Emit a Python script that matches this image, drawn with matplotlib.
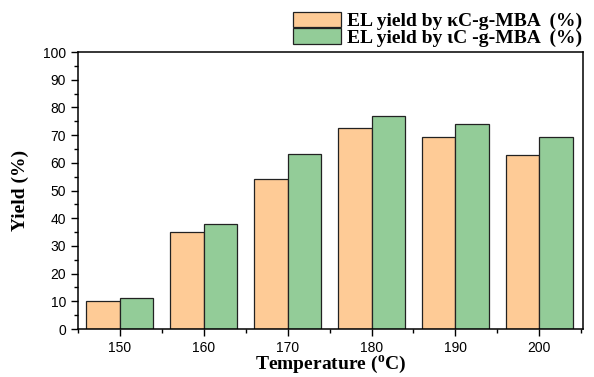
import matplotlib
matplotlib.use("Agg")
import matplotlib.pyplot as plt
import numpy as np
from matplotlib.ticker import MultipleLocator

temperatures = [150, 160, 170, 180, 190, 200]
kc_yield = [10.0, 35.2, 54.3, 72.4, 69.4, 62.7]
ic_yield = [11.2, 37.9, 63.3, 76.9, 73.9, 69.4]
labels = ["EL yield by \u03baC-g-MBA  (%)", "EL yield by \u03b9C -g-MBA  (%)"]

plt.rcParams['mathtext.fontset'] = 'custom'
plt.rcParams['mathtext.rm'] = 'Liberation Serif:bold'
plt.rcParams['mathtext.bf'] = 'Liberation Serif:bold'

fig = plt.figure(figsize=(5.94, 3.77), dpi=100)
ax = fig.add_axes([0.1313, 0.1273, 0.85, 0.7347])

x = np.array(temperatures, dtype=float)
w = 4.0
b1 = ax.bar(x - w / 2, kc_yield, width=w, color='#FECB96', edgecolor='#222222', linewidth=0.9, label=labels[0])
b2 = ax.bar(x + w / 2, ic_yield, width=w, color='#93CC98', edgecolor='#222222', linewidth=0.9, label=labels[1])

ax.set_xlim(145, 205.2)
ax.set_ylim(0, 100)
ax.xaxis.set_major_locator(MultipleLocator(10))
ax.xaxis.set_minor_locator(MultipleLocator(5))
ax.yaxis.set_major_locator(MultipleLocator(10))
ax.yaxis.set_minor_locator(MultipleLocator(5))
ax.tick_params(which='both', direction='out', top=False, right=False, width=1.0)
ax.tick_params(which='major', length=5, labelsize=10)
ax.tick_params(which='minor', length=3)
for lab in ax.get_xticklabels() + ax.get_yticklabels():
    lab.set_fontfamily('Liberation Sans')
for s in ax.spines.values():
    s.set_linewidth(1.1)

ax.set_xlabel('Temperature ($^{\\mathbf{o}}$C)', fontfamily='Liberation Serif', fontweight='bold', fontsize=14, labelpad=-1)
ax.set_ylabel('Yield (%)', fontfamily='Liberation Serif', fontweight='bold', fontsize=14, labelpad=10)

fig.legend(handles=[b1, b2], labels=labels, loc='upper right', bbox_to_anchor=(1.0, 1.0),
           frameon=False, prop={'family': 'Liberation Serif', 'weight': 'bold', 'size': 14},
           handlelength=2.5, handleheight=0.85, handletextpad=0.3, labelspacing=-0.1,
           borderaxespad=0.3, borderpad=0.3)

fig.savefig('out.png', dpi=100)
